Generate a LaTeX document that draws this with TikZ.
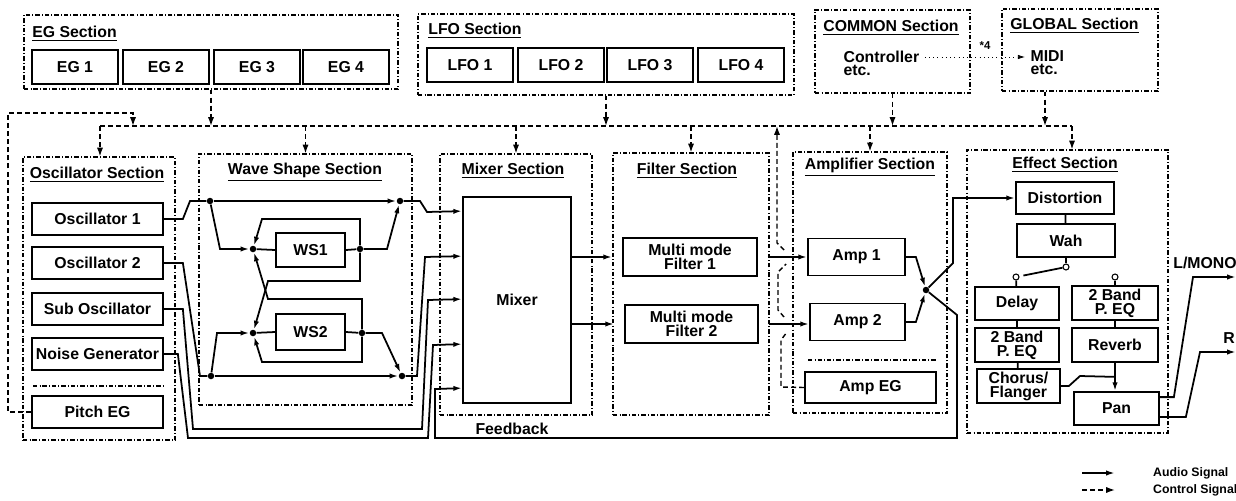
\documentclass[tikz,border=0pt]{standalone}
\usepackage{fontspec}
\setmainfont{Liberation Sans}
\usetikzlibrary{arrows.meta, positioning, calc}

\begin{document}
\begin{tikzpicture}[x=0.02cm, y=-0.02cm,
    font=\bfseries\fontsize{9}{8}\selectfont,
    blk/.style={draw, line width=1pt, inner sep=1pt, align=center},
    wh/.style 2 args={minimum width=#1*0.02cm, minimum height=#2*0.02cm},
    sect/.style={draw, line width=0.6pt, dash pattern=on 2.5pt off 1.2pt on 0.5pt off 1.2pt},
    ttl/.style={inner sep=0pt},
    wire/.style={line width=1pt},
    sig/.style={wire, -{Latex[length=5pt,width=3pt]}},
    ctlw/.style={line width=0.8pt, dash pattern=on 2.8pt off 1.8pt},
    ctl/.style={ctlw, -{Latex[length=5pt,width=3.5pt]}},
    jdot/.style={circle, fill, inner sep=0pt, minimum size=0.13cm},
    swc/.style={circle, draw, fill=white, line width=0.6pt, inner sep=0pt, minimum size=0.12cm}]
    \useasboundingbox (0,0) rectangle (1236,500);

    % Top sections
    \node[sect, wh={374}{74}] (egsec) at (211,52) {};
    \node[ttl, anchor=west] at (32,34) {\underline{EG Section}};
    \foreach \i/\x in {1/75,2/166,3/257,4/346}
        \node[blk, wh={86}{34}] (eg\i) at (\x,67) {EG \i};

    \node[sect, wh={376}{81}] (lfosec) at (606,54.5) {};
    \node[ttl, anchor=west] at (428,31) {\underline{LFO Section}};
    \foreach \i/\x in {1/470,2/561,3/650,4/741}
        \node[blk, wh={86}{34}] (lfo\i) at (\x,65) {LFO \i};

    \node[sect, wh={155}{83}] (comsec) at (892.5,51.5) {};
    \node[ttl, anchor=west] at (823,28) {\underline{COMMON Section}};
    \node[anchor=west, align=left, inner sep=3pt] (ctrl) at (838,63) {Controller\\[-0.5pt]etc.};

    \node[sect, wh={156}{82}] (glsec) at (1080,50) {};
    \node[ttl, anchor=west] at (1010,26) {\underline{GLOBAL Section}};
    \node[anchor=west, align=left, inner sep=3pt] (midi) at (1025,63) {MIDI\\[-0.5pt]etc.};

    \draw[line width=0.4pt, dotted, -{Latex[length=4pt,width=2.5pt]}] (ctrl.east |- 0,57) -- (midi.west |- 0,57);
    \node[font=\bfseries\fontsize{6.5}{6.5}\selectfont] at (985,46) {*4};

    % Control bus
    \coordinate (busL) at (100,126);
    \coordinate (busR) at (1072,126);
    \draw[ctlw] (busL) -- (busR);
    \draw[ctl] (egsec.south) -- (egsec.south |- busL);
    \draw[ctl] (lfosec.south) -- (lfosec.south |- busL);
    \draw[ctl] (comsec.south) -- (comsec.south |- busL);
    \draw[ctl] ($(glsec.south)+(-35,0)$) -- ($(glsec.south |- busL)+(-35,0)$);

    % Oscillator Section
    \node[sect, wh={152}{283}] (oscsec) at (99,298.5) {};
    \node[ttl] at (97,175) {\underline{Oscillator Section}};
    \node[blk, wh={131}{32}] (osc1) at (97.5,219) {Oscillator 1};
    \node[blk, wh={131}{32}] (osc2) at (97.5,263) {Oscillator 2};
    \node[blk, wh={131}{32}] (subosc) at (97.5,309) {Sub Oscillator};
    \node[blk, wh={131}{32}] (noise) at (97.5,354) {Noise Generator};
    \draw[sect] (33,386) -- (165,386);
    \node[blk, wh={131}{32}] (pitcheg) at (97.5,412) {Pitch EG};
    \draw[ctl] (busL) -- (oscsec.north -| busL);
    \draw[ctl] (pitcheg.west) -- (8,412) -- (8,113) -- (133,113) -- (133,126);

    % Wave Shape Section
    \node[sect, wh={213}{251}] (wssec) at (305.5,279.5) {};
    \node[ttl] at (305,172) {\underline{Wave Shape Section}};
    \draw[ctl] (wssec.north |- busL) -- (wssec.north);
    \node[blk, wh={69}{34}] (ws1) at (310.5,250) {WS1};
    \node[blk, wh={69}{36}] (ws2) at (310.5,332) {WS2};
    \node[jdot] (t1) at (210,201) {};
    \node[jdot] (t2) at (400,201) {};
    \node[jdot] (d1) at (253,249) {};
    \node[jdot] (e1) at (360,249) {};
    \node[jdot] (d2) at (253,333) {};
    \node[jdot] (e2) at (362,333) {};
    \node[jdot] (b1) at (211,376) {};
    \node[jdot] (b2) at (402,376) {};
    \draw[wire] (osc1.east) -- ++(19,0) -- (190,201) -- (t1);
    \draw[sig] (t1) -- (t2);
    \draw[sig] (t1) -- (220,249) -- (d1);
    \draw[wire] (d1) -- (ws1.west);
    \draw[wire] (ws1.east) -- (e1);
    \draw[sig] (e1) -- (387,249) -- (t2);
    \draw[sig] (e1) -- (360,219) -- (262,219) -- (d1);
    \draw[sig] (e1) -- (360,281) -- (268,281) -- (d2);
    \draw[sig] (e2) -- (362,299) -- (268,299) -- (d1);
    \draw[sig] (e2) -- (362,362) -- (262,362) -- (d2);
    \draw[wire] (d2) -- (ws2.west);
    \draw[wire] (ws2.east) -- (e2);
    \draw[sig] (e2) -- (382,333) -- (b2);
    \draw[sig] (b1) -- (217,333) -- (d2);
    \draw[sig] (b1) -- (b2);
    \draw[wire] (osc2.east) -- ++(19,0) -- (200,376) -- (b1);

    % Mixer Section
    \node[sect, wh={152}{261}] (mixsec) at (516,284.5) {};
    \node[ttl] at (513,171) {\underline{Mixer Section}};
    \draw[ctl] (mixsec.north |- busL) -- (mixsec.north);
    \node[blk, wh={108}{206}] (mixer) at (517,300) {Mixer};
    \foreach \n/\d in {1/15,2/60,3/103,4/148,5/192}
        \coordinate (in\n) at ($(mixer.north west)+(0,\d)$);
    \draw[sig] (t2) -- (420,201) -- (427,212) -- (in1);
    \draw[sig] (b2) -- (417,376) -- (425,257) -- (in2);
    \draw[sig] (subosc.east) -- ++(19,0) -- (193,429) -- (422,429) -- (428,300) -- (in3);
    \draw[sig] (noise.east) -- ++(14,0) -- (188,438) -- (428,438) -- (433,345) -- (in4);

    % Filter Section
    \node[sect, wh={156}{262}] (filsec) at (691,284) {};
    \node[ttl] at (687,171) {\underline{Filter Section}};
    \draw[ctl] (filsec.north |- busL) -- (filsec.north);
    \node[blk, wh={134}{38}] (mmf1) at (690,257) {Multi mode\\Filter 1};
    \node[blk, wh={133}{38}] (mmf2) at (691.5,324) {Multi mode\\Filter 2};
    \draw[sig, shorten >=0.2cm] (mixer.east |- mmf1) -- (mmf1.west);
    \draw[sig, shorten >=0.2cm] (mixer.east |- mmf2) -- (mmf2.west);

    % Amplifier Section
    \node[sect, wh={154}{261}] (ampsec) at (870,282.5) {};
    \node[ttl] at (870,167) {\underline{Amplifier Section}};
    \draw[ctl] (ampsec.north |- busL) -- (ampsec.north);
    \node[blk, wh={97}{37}] (amp1) at (856.5,257) {Amp 1};
    \node[blk, wh={95}{37}] (amp2) at (857.5,322) {Amp 2};
    \draw[sect] (808,360) -- (937,360);
    \node[blk, wh={131}{31}] (ampeg) at (870.5,387.5) {Amp EG};
    \draw[sig, shorten <=0.2cm] (mmf1.east) -- (mmf1.east -| amp1.west);
    \draw[sig, shorten <=0.2cm] (mmf2.east) -- (mmf2.east -| amp2.west);
    \draw[ctlw] (ampeg.west) -- (781,387) -- (781,340) -- (787,332);
    \draw[ctlw] (784,317) -- (778,310) -- (778,272) -- (786,264);
    \draw[ctl] (784,250) -- (777,243) -- (777,126);
    \node[jdot] (jn) at (926,290) {};
    \draw[sig] (amp1.east) -- ++(10,0) -- (jn);
    \draw[sig] (amp2.east) -- ++(10,0) -- (jn);

    % Feedback
    \draw[sig] (jn) -- (957,315) -- (957,438) -- (435,438) -- (435,389) -- (in5);
    \node (fb) at (512,429) {Feedback};

    % Effect Section
    \node[sect, wh={201}{283}] (effsec) at (1067.5,291.5) {};
    \node[ttl] at (1065,165) {\underline{Effect Section}};
    \draw[ctl] (busR) -- (effsec.north -| busR);
    \node[blk, wh={98}{32}] (dist) at (1065,198) {Distortion};
    \node[blk, wh={98}{33}] (wah) at (1066,240.5) {Wah};
    \node[blk, wh={84}{33}] (delay) at (1017,303.5) {Delay};
    \node[blk, wh={84}{34}] (peq1) at (1017,345) {2 Band\\P. EQ};
    \node[blk, wh={83}{34}] (chorus) at (1018.5,386) {Chorus/\\Flanger};
    \node[blk, wh={86}{34}] (peq2) at (1115,303) {2 Band\\P. EQ};
    \node[blk, wh={86}{34}] (reverb) at (1115,345) {Reverb};
    \node[blk, wh={85}{33}] (pan) at (1116.5,408.5) {Pan};
    \node[swc] (sw0) at (1066,267) {};
    \node[swc] (sw1) at (1016,277) {};
    \node[swc] (sw2) at (1115,277) {};
    \draw[sig] (jn) -- (953,263) -- (953,198) -- (dist.west);
    \draw[wire] (dist) -- (wah);
    \draw[wire] (wah) -- (sw0);
    \draw[wire, shorten >=0.08cm] (sw0) -- (sw1);
    \draw[wire] (sw1) -- (delay);
    \draw[wire] (sw2) -- (peq2);
    \draw[wire] (delay) -- (peq1);
    \draw[wire] (peq1) -- (chorus);
    \draw[wire] (peq2) -- (reverb);
    \draw[sig] (reverb.south) -- (reverb.south |- pan.north);
    \draw[wire] (chorus.east) -- ++(8,0) -- (1080,376) -- ($(reverb.south)+(0,14)$);

    % Outputs
    \coordinate (lout) at (1236,277);
    \coordinate (rout) at (1236,352);
    \draw[sig] ($(pan.north east)+(0,6)$) -- ++(14,0) -- (1193,277) -- (lout);
    \draw[sig] ($(pan.south east)+(0,-9)$) -- ++(26,0) -- (1200,352) -- (rout);
    \node (lmono) at (1205,263) {L/MONO};
    \node (rlbl) at (1229,338) {R};

    % Legend
    \node[anchor=west, font=\bfseries\fontsize{7}{7}\selectfont] (audlbl) at (1147,473) {Audio Signal};
    \node[anchor=west, font=\bfseries\fontsize{7}{7}\selectfont] (ctllbl) at (1147,490) {Control Signal};
    \draw[sig] ($(audlbl.west)+(-65,0)$) -- ($(audlbl.west)+(-32,0)$);
    \draw[ctl] ($(ctllbl.west)+(-65,0)$) -- ($(ctllbl.west)+(-32,0)$);
\end{tikzpicture}
\end{document}
